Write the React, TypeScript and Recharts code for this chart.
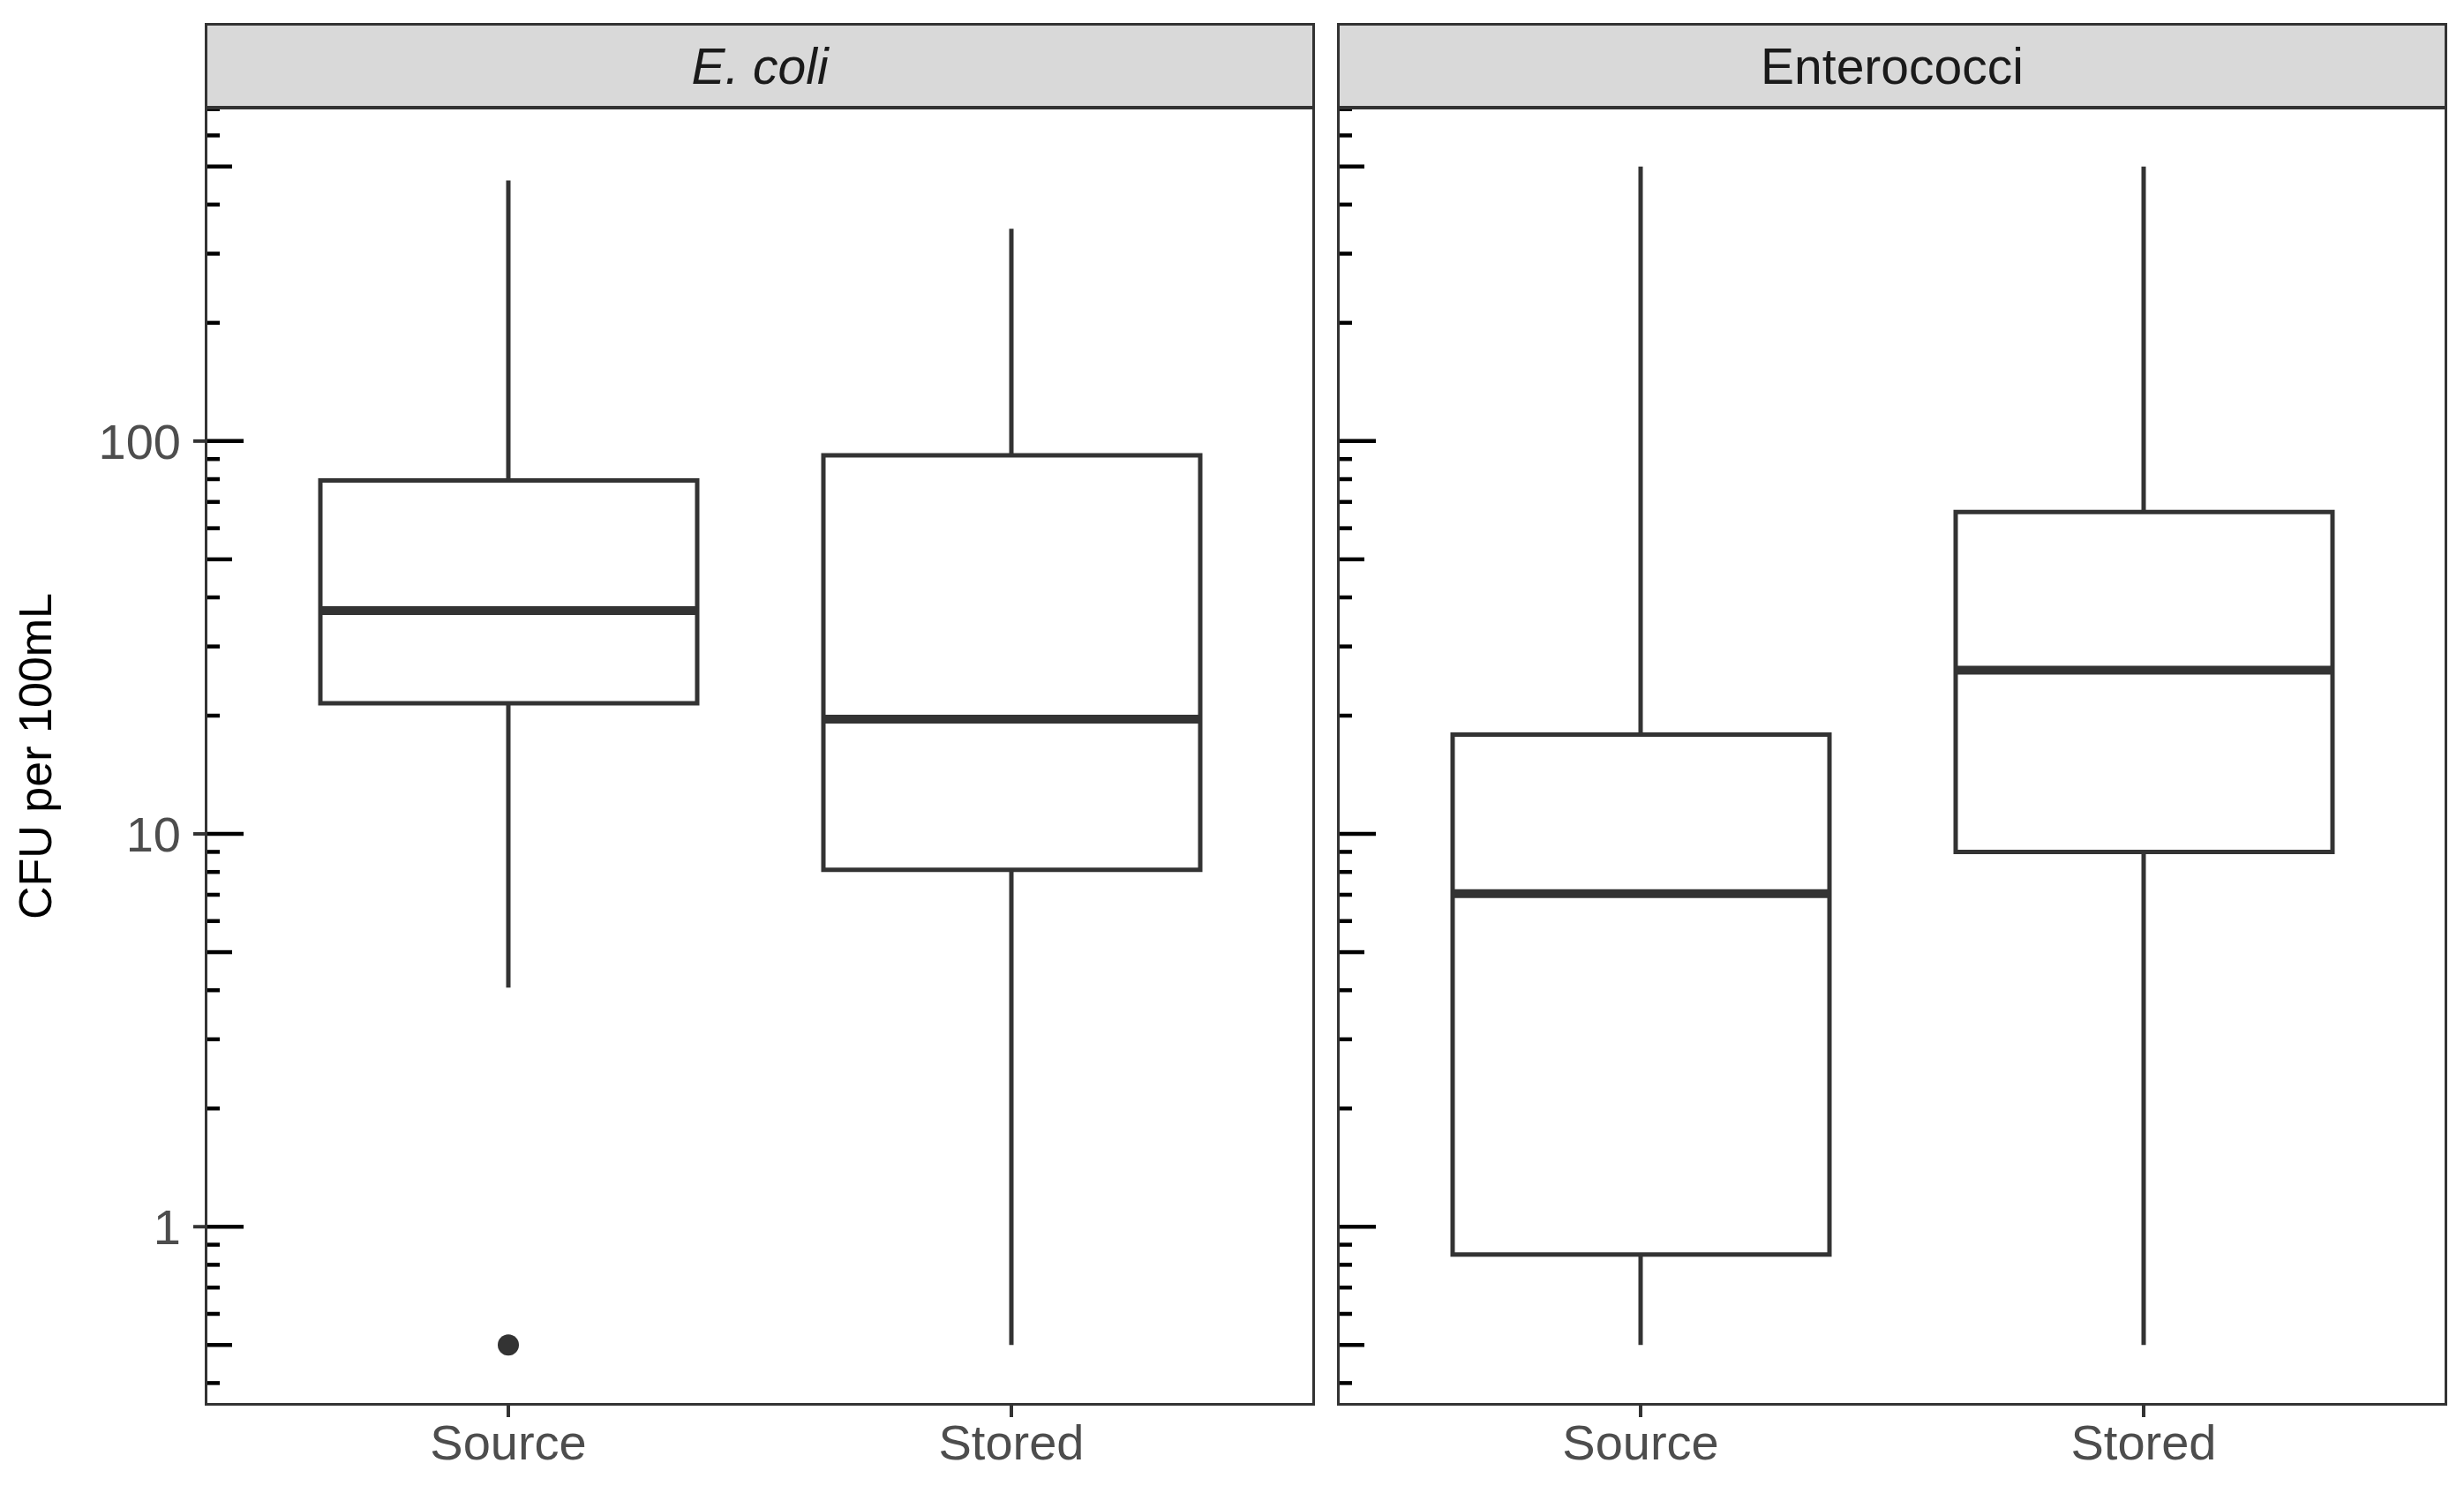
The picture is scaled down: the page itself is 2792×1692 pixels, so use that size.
import { Bar, ComposedChart, ErrorBar, Scatter, XAxis, YAxis } from "recharts";

const categories = ["Source", "Stored"];

// E. coli
const ecoliMin = [4.06, 0.5];
const ecoliQ1 = [21.5, 8.1];
const ecoliMedian = [37, 19.6];
const ecoliQ3 = [79.4, 92];
const ecoliMax = [461, 347];
const ecoliOutlier = [0.5, null];

// Enterococci
const enteroMin = [0.5, 0.5];
const enteroQ1 = [0.85, 9.0];
const enteroMedian = [7.05, 26.1];
const enteroQ3 = [17.9, 66];
const enteroMax = [500, 500];
const enteroOutlier = [null, null];

const majorTicks = [1, 10, 100];
const midTicks = [0.5, 5, 50, 500];
const logTicks = [
  0.4, 0.5, 0.6, 0.7, 0.8, 0.9, 1, 2, 3, 4, 5, 6, 7, 8, 9, 10, 20, 30, 40, 50, 60, 70, 80, 90, 100, 200, 300,
  400, 500, 600, 700,
];

const FONT = "'Liberation Sans', Arial, Helvetica, sans-serif";
const INK = "#333333";
const BOX_W = 427;

function buildRows(
  min: number[],
  q1: number[],
  median: number[],
  q3: number[],
  max: number[],
  outlier: (number | null)[],
) {
  return categories.map((group, i) => ({
    group,
    box: [q1[i], q3[i]],
    median: median[i],
    q1: q1[i],
    q3: q3[i],
    lowerWhisker: [q1[i] - min[i], 0],
    upperWhisker: [0, max[i] - q3[i]],
    outlier: outlier[i],
  }));
}

const ecoliRows = buildRows(ecoliMin, ecoliQ1, ecoliMedian, ecoliQ3, ecoliMax, ecoliOutlier);
const enteroRows = buildRows(enteroMin, enteroQ1, enteroMedian, enteroQ3, enteroMax, enteroOutlier);

function LogTick(props: any) {
  const { x, y, payload, showLabels } = props;
  const v = payload.value;
  const major = majorTicks.includes(v);
  const len = major ? 42 : midTicks.includes(v) ? 29 : 15;
  return (
    <g>
      <line x1={x} x2={x + len} y1={y} y2={y} stroke="#000" strokeWidth={4.5} />
      {showLabels && major && (
        <>
          <line x1={x - 15} x2={x} y1={y} y2={y} stroke={INK} strokeWidth={4} />
          <text x={x - 29} y={y} dy="0.36em" textAnchor="end" fontSize={56} fill="#4D4D4D" fontFamily={FONT}>
            {v}
          </text>
        </>
      )}
    </g>
  );
}

const hidden = () => <g />;

function MedianShape(props: any) {
  const { cx, cy } = props;
  return <line x1={cx - BOX_W / 2} x2={cx + BOX_W / 2} y1={cy} y2={cy} stroke={INK} strokeWidth={10} />;
}

function OutlierShape(props: any) {
  const { cx, cy, payload } = props;
  if (payload.outlier == null || !Number.isFinite(cy)) return <g />;
  return <circle cx={cx} cy={cy} r={12} fill={INK} />;
}

function Panel({
  title,
  italic,
  rows,
  left,
  width,
  axisWidth,
  marginRight,
  showLabels,
}: {
  title: string;
  italic: boolean;
  rows: ReturnType<typeof buildRows>;
  left: number;
  width: number;
  axisWidth: number;
  marginRight: number;
  showLabels: boolean;
}) {
  const plotLeft = left + axisWidth;
  const plotRight = left + width - marginRight;
  return (
    <>
      <div style={{ position: "absolute", left, top: 0 }}>
        <ComposedChart
          width={width}
          height={1692}
          data={rows}
          margin={{ top: 122, right: marginRight, bottom: 0, left: 0 }}
        >
          <XAxis
            dataKey="group"
            height={101}
            padding={{ left: 57, right: 57 }}
            axisLine={false}
            tickSize={15}
            tickMargin={8}
            tickLine={{ stroke: INK, strokeWidth: 4 }}
            tick={{ fontSize: 56, fill: "#4D4D4D", fontFamily: FONT }}
            interval={0}
          />
          <YAxis
            scale="log"
            domain={[0.354, 706]}
            allowDataOverflow
            ticks={logTicks}
            interval={0}
            width={axisWidth}
            axisLine={false}
            tickLine={false}
            tickSize={0}
            tickMargin={0}
            tick={(p: any) => <LogTick {...p} showLabels={showLabels} />}
          />
          <Bar dataKey="box" barSize={BOX_W} fill="#fff" stroke={INK} strokeWidth={5} isAnimationActive={false} />
          <Scatter dataKey="q3" shape={hidden} isAnimationActive={false}>
            <ErrorBar dataKey="upperWhisker" direction="y" width={0} stroke={INK} strokeWidth={5} />
          </Scatter>
          <Scatter dataKey="q1" shape={hidden} isAnimationActive={false}>
            <ErrorBar dataKey="lowerWhisker" direction="y" width={0} stroke={INK} strokeWidth={5} />
          </Scatter>
          <Scatter dataKey="median" shape={MedianShape} isAnimationActive={false} />
          <Scatter dataKey="outlier" shape={OutlierShape} isAnimationActive={false} />
        </ComposedChart>
      </div>
      <div
        style={{
          position: "absolute",
          left: plotLeft - 2,
          top: 26,
          width: plotRight - plotLeft + 4,
          height: 98,
          boxSizing: "border-box",
          border: `3px solid ${INK}`,
          background: "#D9D9D9",
          display: "flex",
          alignItems: "center",
          justifyContent: "center",
          fontFamily: FONT,
          fontSize: 57,
          fontStyle: italic ? "italic" : "normal",
          color: "#1A1A1A",
        }}
      >
        {title}
      </div>
      <div
        style={{
          position: "absolute",
          left: plotLeft - 2,
          top: 120,
          width: plotRight - plotLeft + 4,
          height: 1473,
          boxSizing: "border-box",
          border: `3px solid ${INK}`,
          pointerEvents: "none",
        }}
      />
    </>
  );
}

export default function App() {
  return (
    <div
      style={{
        position: "absolute",
        left: 0,
        top: 0,
        width: 2792,
        height: 1692,
        background: "#fff",
        overflow: "hidden",
      }}
    >
      <Panel
        title="E. coli"
        italic
        rows={ecoliRows}
        left={0}
        width={1500}
        axisWidth={234}
        marginRight={12}
        showLabels
      />
      <Panel
        title="Enterococci"
        italic={false}
        rows={enteroRows}
        left={1500}
        width={1292}
        axisWidth={17}
        marginRight={21}
        showLabels={false}
      />
      <svg width={100} height={1692} style={{ position: "absolute", left: 0, top: 0 }}>
        <text
          x={58}
          y={857}
          transform="rotate(-90, 58, 857)"
          textAnchor="middle"
          fontSize={52}
          fontFamily={FONT}
          fill="#000"
        >
          CFU per 100mL
        </text>
      </svg>
    </div>
  );
}
